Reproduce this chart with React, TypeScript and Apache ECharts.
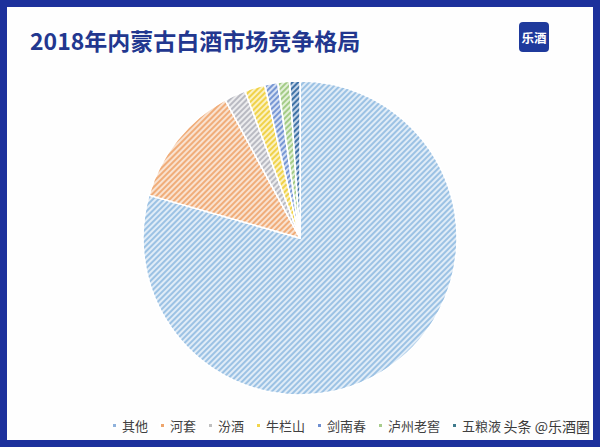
import React, { useEffect, useRef } from "react";
import * as echarts from "echarts";

const categories = ["其他", "河套", "汾酒", "牛栏山", "剑南春", "泸州老窖", "五粮液"];
const shares = [79.4, 12.7, 2.2, 2.1, 1.35, 1.2, 1.05];
const lineColors = ["#9cc2e4", "#f0ad7a", "#b9bac2", "#f0d24a", "#7797d4", "#a3cb86", "#3f72a6"];
const baseColors = ["#e0ecf7", "#f9e2d0", "#ececee", "#fbf1c0", "#d6e0f3", "#e3f0d8", "#c4d4e8"];
const legendColors = ["#8fb2dc", "#eea56c", "#c0c0c0", "#f2d54c", "#6f8fd0", "#a8cc8c", "#3e7a8c"];
const titleText = "2018年内蒙古白酒市场竞争格局";
const watermark = "头条 @乐酒圈";

const FONT = '"Noto Sans CJK SC", "Noto Sans", sans-serif';

export default function App() {
  const ref = useRef<HTMLDivElement>(null);
  useEffect(() => {
    if (!ref.current) return;
    const chart = echarts.init(ref.current, null, { renderer: "svg" });
    const data = categories.map((name, i) => ({
      name,
      value: shares[i],
      itemStyle: {
        color: baseColors[i],
        decal: {
          symbol: "rect",
          symbolSize: 1,
          dashArrayX: [1, 0],
          dashArrayY: [1.5, 1.6],
          rotation: -Math.PI / 4,
          color: lineColors[i],
        },
      },
    }));
    chart.setOption({
      animation: false,
      backgroundColor: "#fefefe",
      legend: {
        left: 111,
        top: 418,
        padding: 0,
        icon: "rect",
        itemWidth: 5,
        itemHeight: 5,
        itemGap: 11,
        textStyle: { fontFamily: FONT, fontSize: 13, color: "#404040", lineHeight: 15 },
        itemStyle: { decal: "none" },
        data: categories.map((name, i) => ({
          name,
          itemStyle: { color: legendColors[i], decal: "none" },
        })),
      },
      graphic: [
        {
          type: "rect",
          shape: { x: 3.5, y: 3.5, width: 593, height: 440 },
          style: { fill: "none", stroke: "#1d319c", lineWidth: 7 },
          z: 10,
        },
        {
          type: "text",
          x: 30,
          y: 40,
          style: {
            text: titleText,
            fontFamily: FONT,
            fontSize: 23,
            fontWeight: "bold",
            fill: "#22378f",
            verticalAlign: "middle",
          },
        },
        {
          type: "rect",
          shape: { x: 519, y: 22, width: 30, height: 30, r: 4 },
          style: { fill: "#1f3a9c" },
        },
        {
          type: "text",
          x: 534,
          y: 37,
          style: {
            text: "乐酒",
            fontFamily: FONT,
            fontSize: 12.5,
            fontWeight: "bold",
            fill: "#ffffff",
            align: "center",
            verticalAlign: "middle",
          },
        },
        {
          type: "text",
          x: 590,
          y: 426,
          style: {
            text: watermark,
            fontFamily: FONT,
            fontSize: 14,
            fill: "#3a3a3a",
            align: "right",
            verticalAlign: "middle",
          },
          z: 20,
        },
      ],
      series: [
        {
          type: "pie",
          center: [300, 238],
          radius: 157,
          startAngle: 90,
          clockwise: true,
          label: { show: false },
          labelLine: { show: false },
          emphasis: { disabled: true },
          itemStyle: { borderColor: "#ffffff", borderWidth: 1.5 },
          data,
        },
      ],
    });
    return () => chart.dispose();
  }, []);
  return (
    <div
      ref={ref}
      style={{ position: "fixed", left: 0, top: 0, width: 600, height: 447 }}
    />
  );
}
